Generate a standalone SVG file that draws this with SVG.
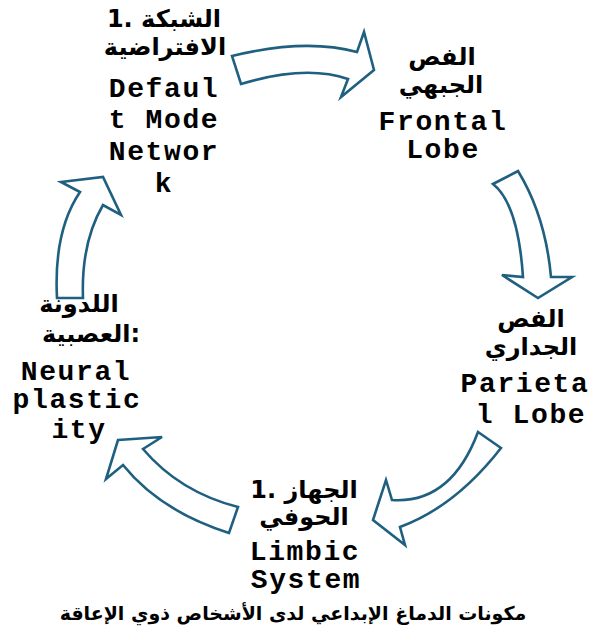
<svg xmlns="http://www.w3.org/2000/svg" width="595" height="643" viewBox="0 0 595 643">
<style>
.arr{fill:#ffffff;stroke:#1f5f80;stroke-width:2.6;stroke-linejoin:miter}
.en{font-family:"Liberation Mono","Courier New",monospace;font-weight:bold;font-size:28px;letter-spacing:1.6px;fill:#000;text-anchor:middle}
.ar{font-family:"DejaVu Sans","Liberation Sans",sans-serif;font-weight:bold;font-size:24px;fill:#000;text-anchor:middle}
.cap{font-family:"DejaVu Sans","Liberation Sans",sans-serif;font-weight:bold;font-size:19px;fill:#000;text-anchor:middle}
</style>
<rect width="595" height="643" fill="#ffffff"/>
<g id="connectors">
<path class="arr" d="M232,56 Q305.5,38 357,52 L364,32 L374,70 L341,97 L348,79 Q305.5,64.5 241,84 Z"/>
<path class="arr" d="M493,184 L518,171 Q545.5,216 551,277 L572,277 L538,298 L502,275 L523,277 Q518,203.5 493,184 Z"/>
<path class="arr" d="M478,432 L501,448 Q455.5,506.5 400,527 L405,545 L373,520 L386,480 L392,500 Q451,504 478,432 Z"/>
<path class="arr" d="M118,440 L162,437 L143,449 Q179.5,492 238,507 L229,533 Q160,511 123,465 L106,479 Z"/>
<path class="arr" d="M57,298 Q53.5,231 80,192 L61,182 L103,177 L121,215 L103,205 Q81,242.5 83,298 Z"/>
</g>
<g id="node-dmn">
<text class="ar" x="164" y="27">1. الشبكة</text>
<text class="ar" x="165" y="55">الافتراضية</text>
<text class="en" x="164" y="97">Defaul</text>
<text class="en" x="164" y="128">t Mode</text>
<text class="en" x="164" y="160">Networ</text>
<text class="en" x="164" y="192">k</text>
</g>
<g id="node-frontal">
<text class="ar" x="442" y="65">الفص</text>
<text class="ar" x="441" y="93">الجبهي</text>
<text class="en" x="443" y="130">Frontal</text>
<text class="en" x="443" y="158">Lobe</text>
</g>
<g id="node-parietal">
<text class="ar" x="531" y="327">الفص</text>
<text class="ar" x="531" y="355">الجداري</text>
<text class="en" x="525" y="392">Parieta</text>
<text class="en" x="531" y="423">l Lobe</text>
</g>
<g id="node-limbic">
<text class="ar" x="304" y="498">1. الجهاز</text>
<text class="ar" x="304" y="525">الحوفي</text>
<text class="en" x="305" y="560">Limbic</text>
<text class="en" x="306" y="588">System</text>
</g>
<g id="node-neural">
<text class="ar" x="79" y="312">اللدونة</text>
<text class="ar" x="91" y="342">العصبية:</text>
<text class="en" x="76" y="380">Neural</text>
<text class="en" x="77" y="408">plastic</text>
<text class="en" x="79" y="438">ity</text>
</g>
<text class="cap" x="293" y="620">مكونات الدماغ الإبداعي لدى الأشخاص ذوي الإعاقة</text>
</svg>
